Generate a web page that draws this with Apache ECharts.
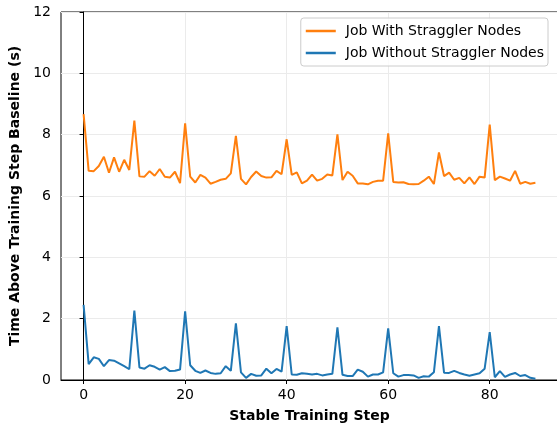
<!DOCTYPE html>
<html>
<head>
<meta charset="utf-8">
<script src="https://cdn.jsdelivr.net/npm/echarts@6/dist/echarts.min.js"></script>
<style>html,body{margin:0;padding:0;background:#fff}#c{width:557px;height:423px}</style>
</head>
<body>
<div id="c"></div>
<script>
const steps = Array.from({length: 90}, (_, i) => i);
const withStraggler = [8.67,6.82,6.81,6.98,7.28,6.76,7.26,6.79,7.18,6.85,
  8.46,6.64,6.63,6.81,6.66,6.88,6.63,6.60,6.79,6.42,
  8.37,6.63,6.44,6.69,6.60,6.40,6.46,6.53,6.56,6.74,
  7.96,6.56,6.38,6.62,6.80,6.65,6.60,6.61,6.82,6.71,
  7.85,6.69,6.77,6.41,6.50,6.70,6.50,6.56,6.70,6.67,
  8.01,6.52,6.79,6.66,6.41,6.41,6.38,6.46,6.50,6.50,
  8.04,6.46,6.44,6.45,6.39,6.38,6.39,6.50,6.63,6.39,
  7.42,6.65,6.76,6.53,6.59,6.41,6.61,6.39,6.63,6.60,
  8.33,6.52,6.63,6.57,6.50,6.82,6.40,6.46,6.40,6.43];
const withoutStraggler = [2.45,0.52,0.74,0.69,0.45,0.65,0.63,0.54,0.45,0.35,
  2.26,0.41,0.37,0.48,0.43,0.34,0.42,0.29,0.30,0.34,
  2.24,0.48,0.30,0.23,0.31,0.23,0.20,0.22,0.45,0.30,
  1.85,0.25,0.07,0.20,0.14,0.15,0.37,0.22,0.36,0.27,
  1.76,0.18,0.17,0.22,0.20,0.18,0.20,0.15,0.18,0.20,
  1.72,0.17,0.13,0.13,0.34,0.27,0.11,0.18,0.18,0.25,
  1.68,0.22,0.11,0.16,0.16,0.15,0.07,0.12,0.11,0.25,
  1.76,0.24,0.23,0.30,0.23,0.18,0.14,0.18,0.22,0.37,
  1.56,0.09,0.29,0.10,0.18,0.23,0.13,0.16,0.07,0.04];
const xTicks = [0, 20, 40, 60, 80];
const seriesNames = ['Job With Straggler Nodes', 'Job Without Straggler Nodes'];

const font = 'DejaVu Sans';
const chart = echarts.init(document.getElementById('c'), null, {renderer: 'canvas'});
chart.setOption({
  animation: false,
  backgroundColor: '#fff',
  grid: {left: 61, right: -1, top: 12, bottom: 43, show: true, borderColor: '#000', borderWidth: 1,
         containLabel: false, outerBoundsMode: 'none'},
  legend: {
    orient: 'vertical', right: 9, top: 18,
    data: seriesNames,
    icon: 'rect', itemWidth: 30, itemHeight: 2.5, itemGap: 6,
    padding: [5, 4, 5, 5],
    borderColor: '#cccccc', borderWidth: 1, borderRadius: 3,
    backgroundColor: 'rgba(255,255,255,0.8)',
    textStyle: {fontFamily: font, fontSize: 14, color: '#000', lineHeight: 16, padding: [0, 0, 0, 5]}
  },
  xAxis: {
    type: 'value', min: -4.45, max: 93.45,
    name: 'Stable Training Step', nameLocation: 'middle', nameGap: 29,
    nameTextStyle: {fontFamily: font, fontSize: 14, fontWeight: 'bold', color: '#000'},
    axisLine: {show: true, onZero: false, lineStyle: {color: '#000', width: 1}},
    axisTick: {show: true, length: 4, customValues: xTicks, lineStyle: {color: '#000'}},
    axisLabel: {customValues: xTicks, fontFamily: font, fontSize: 14, color: '#000', margin: 8},
    splitLine: {show: true, lineStyle: {color: '#ebebeb', width: 1}}
  },
  yAxis: {
    type: 'value', min: 0, max: 12, interval: 2,
    name: 'Time Above Training Step Baseline (s)', nameLocation: 'middle', nameGap: 32,
    nameTextStyle: {fontFamily: font, fontSize: 14, fontWeight: 'bold', color: '#000'},
    axisLine: {show: true, lineStyle: {color: '#000', width: 1}},
    axisTick: {show: true, length: 4, lineStyle: {color: '#000'}},
    axisLabel: {fontFamily: font, fontSize: 14, color: '#000', margin: 10},
    splitLine: {show: true, lineStyle: {color: '#ebebeb', width: 1}}
  },
  series: [
    {name: seriesNames[0], type: 'line', data: steps.map((s, i) => [s, withStraggler[i]]),
     showSymbol: false, symbol: 'none', color: '#ff7f0e', lineStyle: {width: 2, color: '#ff7f0e'}},
    {name: seriesNames[1], type: 'line', data: steps.map((s, i) => [s, withoutStraggler[i]]),
     showSymbol: false, symbol: 'none', color: '#1f77b4', lineStyle: {width: 2, color: '#1f77b4'}}
  ]
});
</script>
</body>
</html>
